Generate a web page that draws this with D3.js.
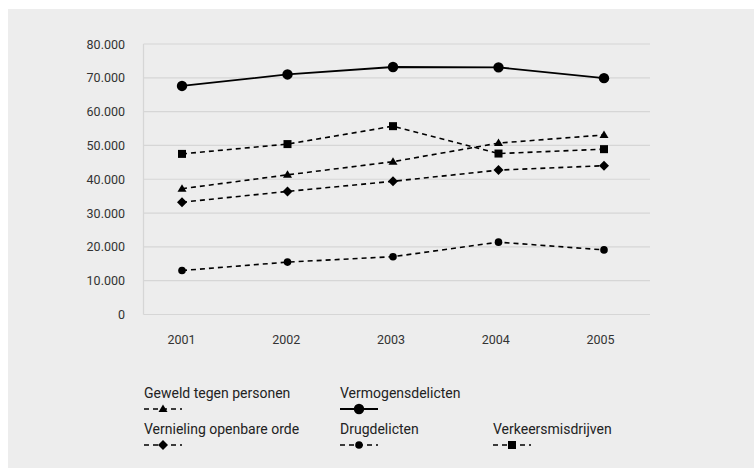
<!DOCTYPE html>
<html>
<head>
<meta charset="utf-8">
<script src="https://cdn.jsdelivr.net/npm/d3@7"></script>
<style>
  html, body { margin: 0; padding: 0; background: #ffffff; }
  svg { display: block; font-family: Roboto, "Liberation Sans", sans-serif; }
</style>
</head>
<body>
<svg id="chart" width="755" height="468"></svg>
<script>
const years = ["2001", "2002", "2003", "2004", "2005"];
const yTicks = [0, 10000, 20000, 30000, 40000, 50000, 60000, 70000, 80000];

const seriesNames = ["Geweld tegen personen", "Vermogensdelicten", "Vernieling openbare orde", "Drugdelicten", "Verkeersmisdrijven"];
const geweld      = [37200, 41300, 45200, 50700, 53100];
const vermogens   = [67600, 71000, 73200, 73100, 69900];
const vernieling  = [33200, 36400, 39400, 42700, 44000];
const drug        = [13000, 15500, 17100, 21400, 19100];
const verkeer     = [47500, 50400, 55700, 47600, 48900];

const seriesValues = [geweld, vermogens, vernieling, drug, verkeer];
const seriesMarker = ["triangle", "bigcircle", "diamond", "circle", "square"];
const seriesDashed = [true, false, true, true, true];

const svg = d3.select("#chart");
const W = 755, H = 468;

// background panel
svg.append("rect").attr("x", 8).attr("y", 9).attr("width", W - 9).attr("height", H - 9).attr("fill", "#ededed");

const plot = { left: 143.5, right: 650, top: 44, bottom: 314.5 };

const x = d3.scalePoint().domain(years).range([182, 604]);
const y = d3.scaleLinear().domain([0, 80000]).range([plot.bottom, plot.top]);

const fmt = v => d3.format(",")(v).replace(/,/g, ".");

// gridlines
svg.append("g").selectAll("line").data(yTicks).join("line")
  .attr("x1", plot.left).attr("x2", plot.right)
  .attr("y1", d => y(d)).attr("y2", d => y(d))
  .attr("stroke", "#d6d6d6").attr("stroke-width", 1.2);
// left border
svg.append("line").attr("x1", plot.left).attr("x2", plot.left)
  .attr("y1", plot.top).attr("y2", plot.bottom)
  .attr("stroke", "#d6d6d6").attr("stroke-width", 1.2);

// y axis labels
const yAxis = d3.axisLeft(y).tickValues(yTicks).tickFormat(fmt).tickSize(0).tickPadding(0);
const gy = svg.append("g").attr("transform", "translate(125,0)").call(yAxis);
gy.select(".domain").remove();
gy.selectAll("text").attr("font-size", 12.5).attr("fill", "#333").attr("font-family", "Roboto, sans-serif");

// x axis labels
const xLabel = d3.scalePoint().domain(years).range([181, 600]);
const xAxis = d3.axisBottom(xLabel).tickSize(0).tickPadding(0);
const gx = svg.append("g").attr("transform", "translate(0,335)").call(xAxis);
gx.select(".domain").remove();
gx.selectAll("text").attr("font-size", 12.5).attr("fill", "#333").attr("font-family", "Roboto, sans-serif");

function drawMarker(g, type, cx, cy) {
  if (type === "bigcircle") {
    g.append("circle").attr("cx", cx).attr("cy", cy).attr("r", 5.2).attr("fill", "#000");
  } else if (type === "circle") {
    g.append("circle").attr("cx", cx).attr("cy", cy).attr("r", 3.8).attr("fill", "#000");
  } else if (type === "square") {
    g.append("rect").attr("x", cx - 4).attr("y", cy - 4).attr("width", 8).attr("height", 8).attr("fill", "#000");
  } else if (type === "diamond") {
    g.append("path").attr("d", `M${cx},${cy - 5}L${cx + 5},${cy}L${cx},${cy + 5}L${cx - 5},${cy}Z`).attr("fill", "#000");
  } else if (type === "triangle") {
    g.append("path").attr("d", `M${cx},${cy - 4.5}L${cx + 4.5},${cy + 3}L${cx - 4.5},${cy + 3}Z`).attr("fill", "#000");
  }
}

const line = d3.line().x((d, i) => x(years[i])).y(d => y(d));

seriesValues.forEach((vals, si) => {
  const g = svg.append("g");
  g.append("path").attr("d", line(vals)).attr("fill", "none")
    .attr("stroke", "#000").attr("stroke-width", seriesDashed[si] ? 1.6 : 1.8)
    .attr("stroke-dasharray", seriesDashed[si] ? "5,4" : null);
  vals.forEach((v, i) => drawMarker(g, seriesMarker[si], x(years[i]), y(v)));
});

// legend
const legendPos = [
  { x: 144, y: 398 }, { x: 340, y: 398 },
  { x: 144, y: 434 }, { x: 340, y: 434 }, { x: 493, y: 434 }
];
seriesNames.forEach((name, si) => {
  const p = legendPos[si];
  const g = svg.append("g");
  g.append("text").attr("x", p.x).attr("y", p.y).text(name)
    .attr("font-size", 14).attr("fill", "#222").attr("font-family", "Roboto, sans-serif");
  const ly = p.y + 11;
  g.append("line").attr("x1", p.x).attr("x2", p.x + 38).attr("y1", ly).attr("y2", ly)
    .attr("stroke", "#000").attr("stroke-width", seriesDashed[si] ? 1.6 : 1.8)
    .attr("stroke-dasharray", seriesDashed[si] ? "5,4" : null);
  drawMarker(g, seriesMarker[si], p.x + 19, ly);
});
</script>
</body>
</html>
